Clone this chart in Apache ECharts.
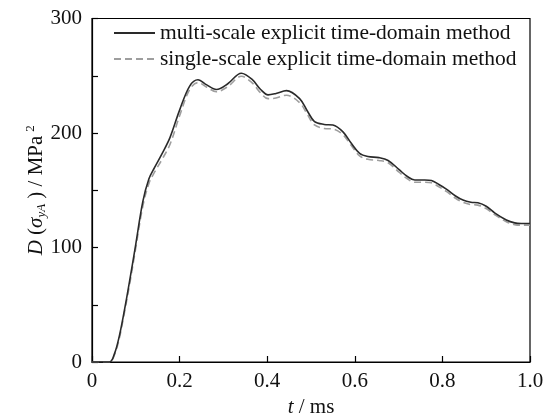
<!DOCTYPE html>
<html>
<head>
<meta charset="utf-8">
<script src="https://cdn.jsdelivr.net/npm/echarts@6/dist/echarts.min.js"></script>
<style>html,body{margin:0;padding:0;background:#fff}#c{width:555px;height:417px}</style>
</head>
<body>
<div id="c"></div>
<script>
var tMulti = [0,0.04,0.052,0.062,0.071,0.086,0.1,0.116,0.13,0.143,0.16,0.178,0.2,0.223,0.242,0.262,0.284,0.31,0.341,0.365,0.385,0.402,0.42,0.444,0.474,0.492,0.508,0.53,0.55,0.573,0.592,0.611,0.63,0.655,0.676,0.702,0.72,0.737,0.76,0.775,0.792,0.809,0.83,0.847,0.865,0.881,0.9,0.92,0.946,0.965,0.98,1.0];
var dMulti = [0,0,8,22,39,71,103,140,160,170,182,196,220,241,246.5,242,238,243,252.2,247,238,233.3,234.5,237,230,219,210,207.5,207,201,191,182.3,179.5,178.5,176,167.7,162,159,159,158.5,155,151,145,141.4,139.5,139,136,130,124,121.5,121,121];
var tSingle = tMulti;
var dSingle = [0,0,7,20,37,68,100,136,156,166,177,190,215,238,244,240,236,240.5,249.5,244,235,230,230.5,233,226.5,216,207,204,203.5,198.5,189,180,177,176,174,165.5,160,157,157,156.5,153,149,143,139.5,137.5,137,134,128.5,122.5,120,119.5,119.5];
var nameMulti = 'multi-scale explicit time-domain method';
var nameSingle = 'single-scale explicit time-domain method';
var xTicks = [0,0.2,0.4,0.6,0.8,1.0];
var yTicks = [0,100,200,300];

function pairs(t, d){ return t.map(function(v,i){return [v,d[i]];}); }
var FONT = '"Liberation Serif","Times New Roman",serif';
var chart = echarts.init(document.getElementById('c'), null, {renderer:'canvas'});
chart.setOption({
  animation:false,
  backgroundColor:'#fff',
  grid:{left:92,right:25,top:18.5,bottom:55,show:true,borderColor:'#000',borderWidth:1.2,backgroundColor:'transparent',
        containLabel:false,outerBoundsMode:'none'},
  legend:{
    orient:'vertical', left:113, top:22, padding:0, itemWidth:41, itemHeight:12, itemGap:4,
    itemStyle:{opacity:0},
    textStyle:{fontFamily:FONT,fontSize:21.5,color:'#111'},
    data:[nameMulti,nameSingle]
  },
  xAxis:{
    type:'value', min:0, max:1, interval:0.2,
    name:'{i|t} / ms', nameLocation:'middle', nameGap:33,
    nameTextStyle:{fontFamily:FONT,fontSize:21,color:'#111',rich:{i:{fontFamily:FONT,fontSize:21,fontStyle:'italic',color:'#111'}}},
    axisLine:{lineStyle:{color:'#000',width:1.2}},
    axisTick:{inside:true,length:6,lineStyle:{color:'#000',width:1.2}},
    splitLine:{show:false},
    axisLabel:{fontFamily:FONT,fontSize:21,color:'#111',margin:9,
      formatter:function(v){ if(xTicks.indexOf(+v.toFixed(1))<0) return ''; return v===0?'0':v.toFixed(1);} }
  },
  yAxis:{
    type:'value', min:0, max:300, interval:50,
    name:'{i|D} ({i|σ}{sub|yA} ) / MPa{sup|2}', nameLocation:'middle', nameGap:43, nameRotate:90, nameMoveOverlap:false,
    nameTextStyle:{fontFamily:FONT,fontSize:21,color:'#111',
      rich:{
        i:{fontFamily:FONT,fontSize:21,fontStyle:'italic',color:'#111'},
        sub:{fontFamily:FONT,fontSize:13,fontStyle:'italic',color:'#111',padding:[10,0,0,0]},
        sup:{fontFamily:FONT,fontSize:13,color:'#111',padding:[0,0,12,4]}
      }},
    axisLine:{lineStyle:{color:'#000',width:1.2}},
    axisTick:{inside:true,length:6,lineStyle:{color:'#000',width:1.2}},
    splitLine:{show:false},
    axisLabel:{fontFamily:FONT,fontSize:21,color:'#111',margin:10,
      formatter:function(v){ return yTicks.indexOf(v)>=0 ? String(v) : ''; }}
  },
  series:[
    {name:nameMulti,type:'line',data:pairs(tMulti,dMulti),smooth:0.35,symbol:'none',
     lineStyle:{color:'#2a2a2a',width:1.6},itemStyle:{color:'#2a2a2a'},z:3},
    {name:nameSingle,type:'line',data:pairs(tSingle,dSingle),smooth:0.35,symbol:'none',
     lineStyle:{color:'#9e9e9e',width:1.6,type:[7,4]},itemStyle:{color:'#9e9e9e'},z:2}
  ]
});
</script>
</body>
</html>
